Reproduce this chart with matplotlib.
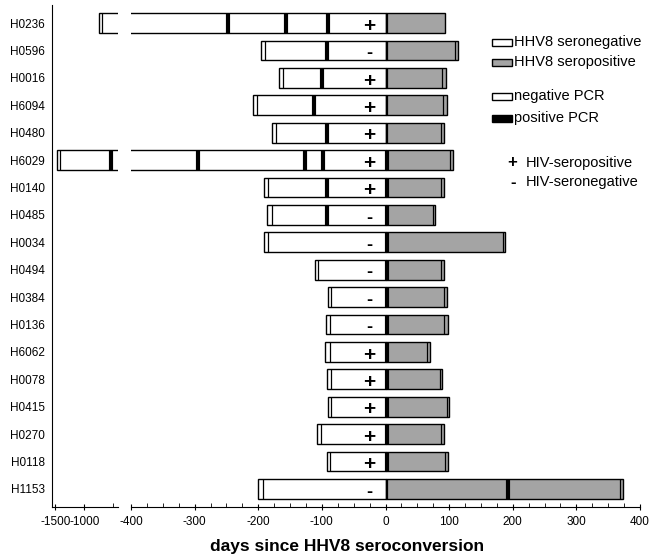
import matplotlib
matplotlib.use('Agg')
import matplotlib.pyplot as plt
from matplotlib.patches import Rectangle
from matplotlib.ticker import MultipleLocator, FixedLocator

plt.rcParams['font.family'] = ['Liberation Sans', 'DejaVu Sans']
plt.rcParams['font.size'] = 10
plt.rcParams['axes.unicode_minus'] = False

# subjects, top to bottom
patients = ['H0236', 'H0596', 'H0016', 'H6094', 'H0480', 'H6029', 'H0140', 'H0485',
            'H0034', 'H0494', 'H0384', 'H0136', 'H6062', 'H0078', 'H0415', 'H0270',
            'H0118', 'H1153']
# first visit (days before seroconversion) and last visit
first_day = [-740, -196, -167, -208, -178, -1474, -191, -186, -191, -111, -90, -94,
             -95, -92, -90, -107, -92, -200]
last_day = [94, 114, 95, 96, 92, 106, 92, 78, 188, 92, 96, 98, 70, 89, 100, 92, 98, 374]
hiv = ['+', '-', '+', '+', '+', '+', '+', '-', '-', '-', '-', '-', '+', '+', '+', '+', '+', '-']
pcr_neg = [[-700, 3], [-190, 3, 110], [-161, 3, 89], [-202, 3, 91], [-172, 3, 88],
           [-1420, 102], [-185, 88], [-179, 74], [-185, 184], [-106, 88], [-85, 92],
           [-88, 92], [-88, 66], [-86, 85], [-86, 96], [-101, 88], [-87, 94], [-193, 3, 369]]
pcr_pos = [[-248, -156, -90], [-92], [-100], [-112], [-92], [-541, -295, -127, -98, 3],
           [-92, 3], [-92, 3], [3], [3], [3], [3], [3], [3], [3], [3], [3], [193]]

GRAY = '#a4a4a4'
H = 0.72

W, Hpx = 649, 559
fig = plt.figure(figsize=(W / 100, Hpx / 100), dpi=100)
bot = (Hpx - 507) / Hpx
hgt = 502 / Hpx
ax_l = fig.add_axes([52 / W, bot, 66 / W, hgt])
ax_r = fig.add_axes([131 / W, bot, 509 / W, hgt], sharey=ax_l)

ys = list(range(len(patients)))
for ax in (ax_l, ax_r):
    ax.barh(ys, [-s for s in first_day], left=first_day, height=H,
            color='white', edgecolor='black', linewidth=1.0, zorder=2)
    ax.barh(ys, last_day, left=0, height=H,
            color=GRAY, edgecolor='black', linewidth=1.0, zorder=2)
    for y, days in zip(ys, pcr_neg):
        ax.vlines(days, y - H / 2, y + H / 2, color='black', linewidth=0.9, zorder=3)
    for y, days in zip(ys, pcr_pos):
        ax.vlines(days, y - H / 2, y + H / 2, color='black', linewidth=3.0, zorder=3)
    for s in ('top', 'right'):
        ax.spines[s].set_visible(False)
    ax.tick_params(axis='x', which='major', direction='inout', length=5, labelsize=8.5, pad=4)
    ax.tick_params(axis='x', which='minor', direction='in', length=3)

for y, sign in zip(ys, hiv):
    ax_r.text(-25, y + 0.12, sign, ha='center', va='center', fontsize=15 if sign == '+' else 13,
              fontweight='bold', zorder=4)

ax_l.set_xlim(-1560, -420)
ax_r.set_xlim(-400, 400)
ax_l.set_ylim(len(patients) - 1 + 0.66, -0.66)

ax_l.xaxis.set_major_locator(FixedLocator([-1500, -1000]))
ax_l.xaxis.set_minor_locator(FixedLocator([-500]))
ax_l.set_yticks(ys)
ax_l.set_yticklabels(patients)
ax_l.tick_params(axis='y', length=0, pad=5, labelsize=8.5)

ax_r.spines['left'].set_visible(False)
ax_r.tick_params(axis='y', left=False, labelleft=False)
ax_r.xaxis.set_major_locator(MultipleLocator(100))
ax_r.xaxis.set_minor_locator(MultipleLocator(25))

fig.text(347 / W, 1 - 547 / Hpx, 'days since HHV8 seroconversion', ha='center', va='center',
         fontsize=12.5, fontweight='bold')

# legend
def fy(py):
    return 1 - py / Hpx

legend_boxes = [(42, 'white', 'HHV8 seronegative'), (62, GRAY, 'HHV8 seropositive'),
                (96, 'white', 'negative PCR'), (118, 'black', 'positive PCR')]
for py, col, label in legend_boxes:
    fig.patches.append(Rectangle((492 / W, fy(py + 3.5)), 20 / W, 7 / Hpx, transform=fig.transFigure,
                                 facecolor=col, edgecolor='black', linewidth=1.0))
    fig.text(514 / W, fy(py), label, ha='left', va='center', fontsize=10.5)

fig.text(512 / W, fy(163), '+', ha='center', va='center', fontsize=12, fontweight='bold')
fig.text(526 / W, fy(163), 'HIV-seropositive', ha='left', va='center', fontsize=10.5)
fig.text(513 / W, fy(182), '-', ha='center', va='center', fontsize=12, fontweight='bold')
fig.text(526 / W, fy(182), 'HIV-seronegative', ha='left', va='center', fontsize=10.5)

fig.savefig('out.png', dpi=100)
